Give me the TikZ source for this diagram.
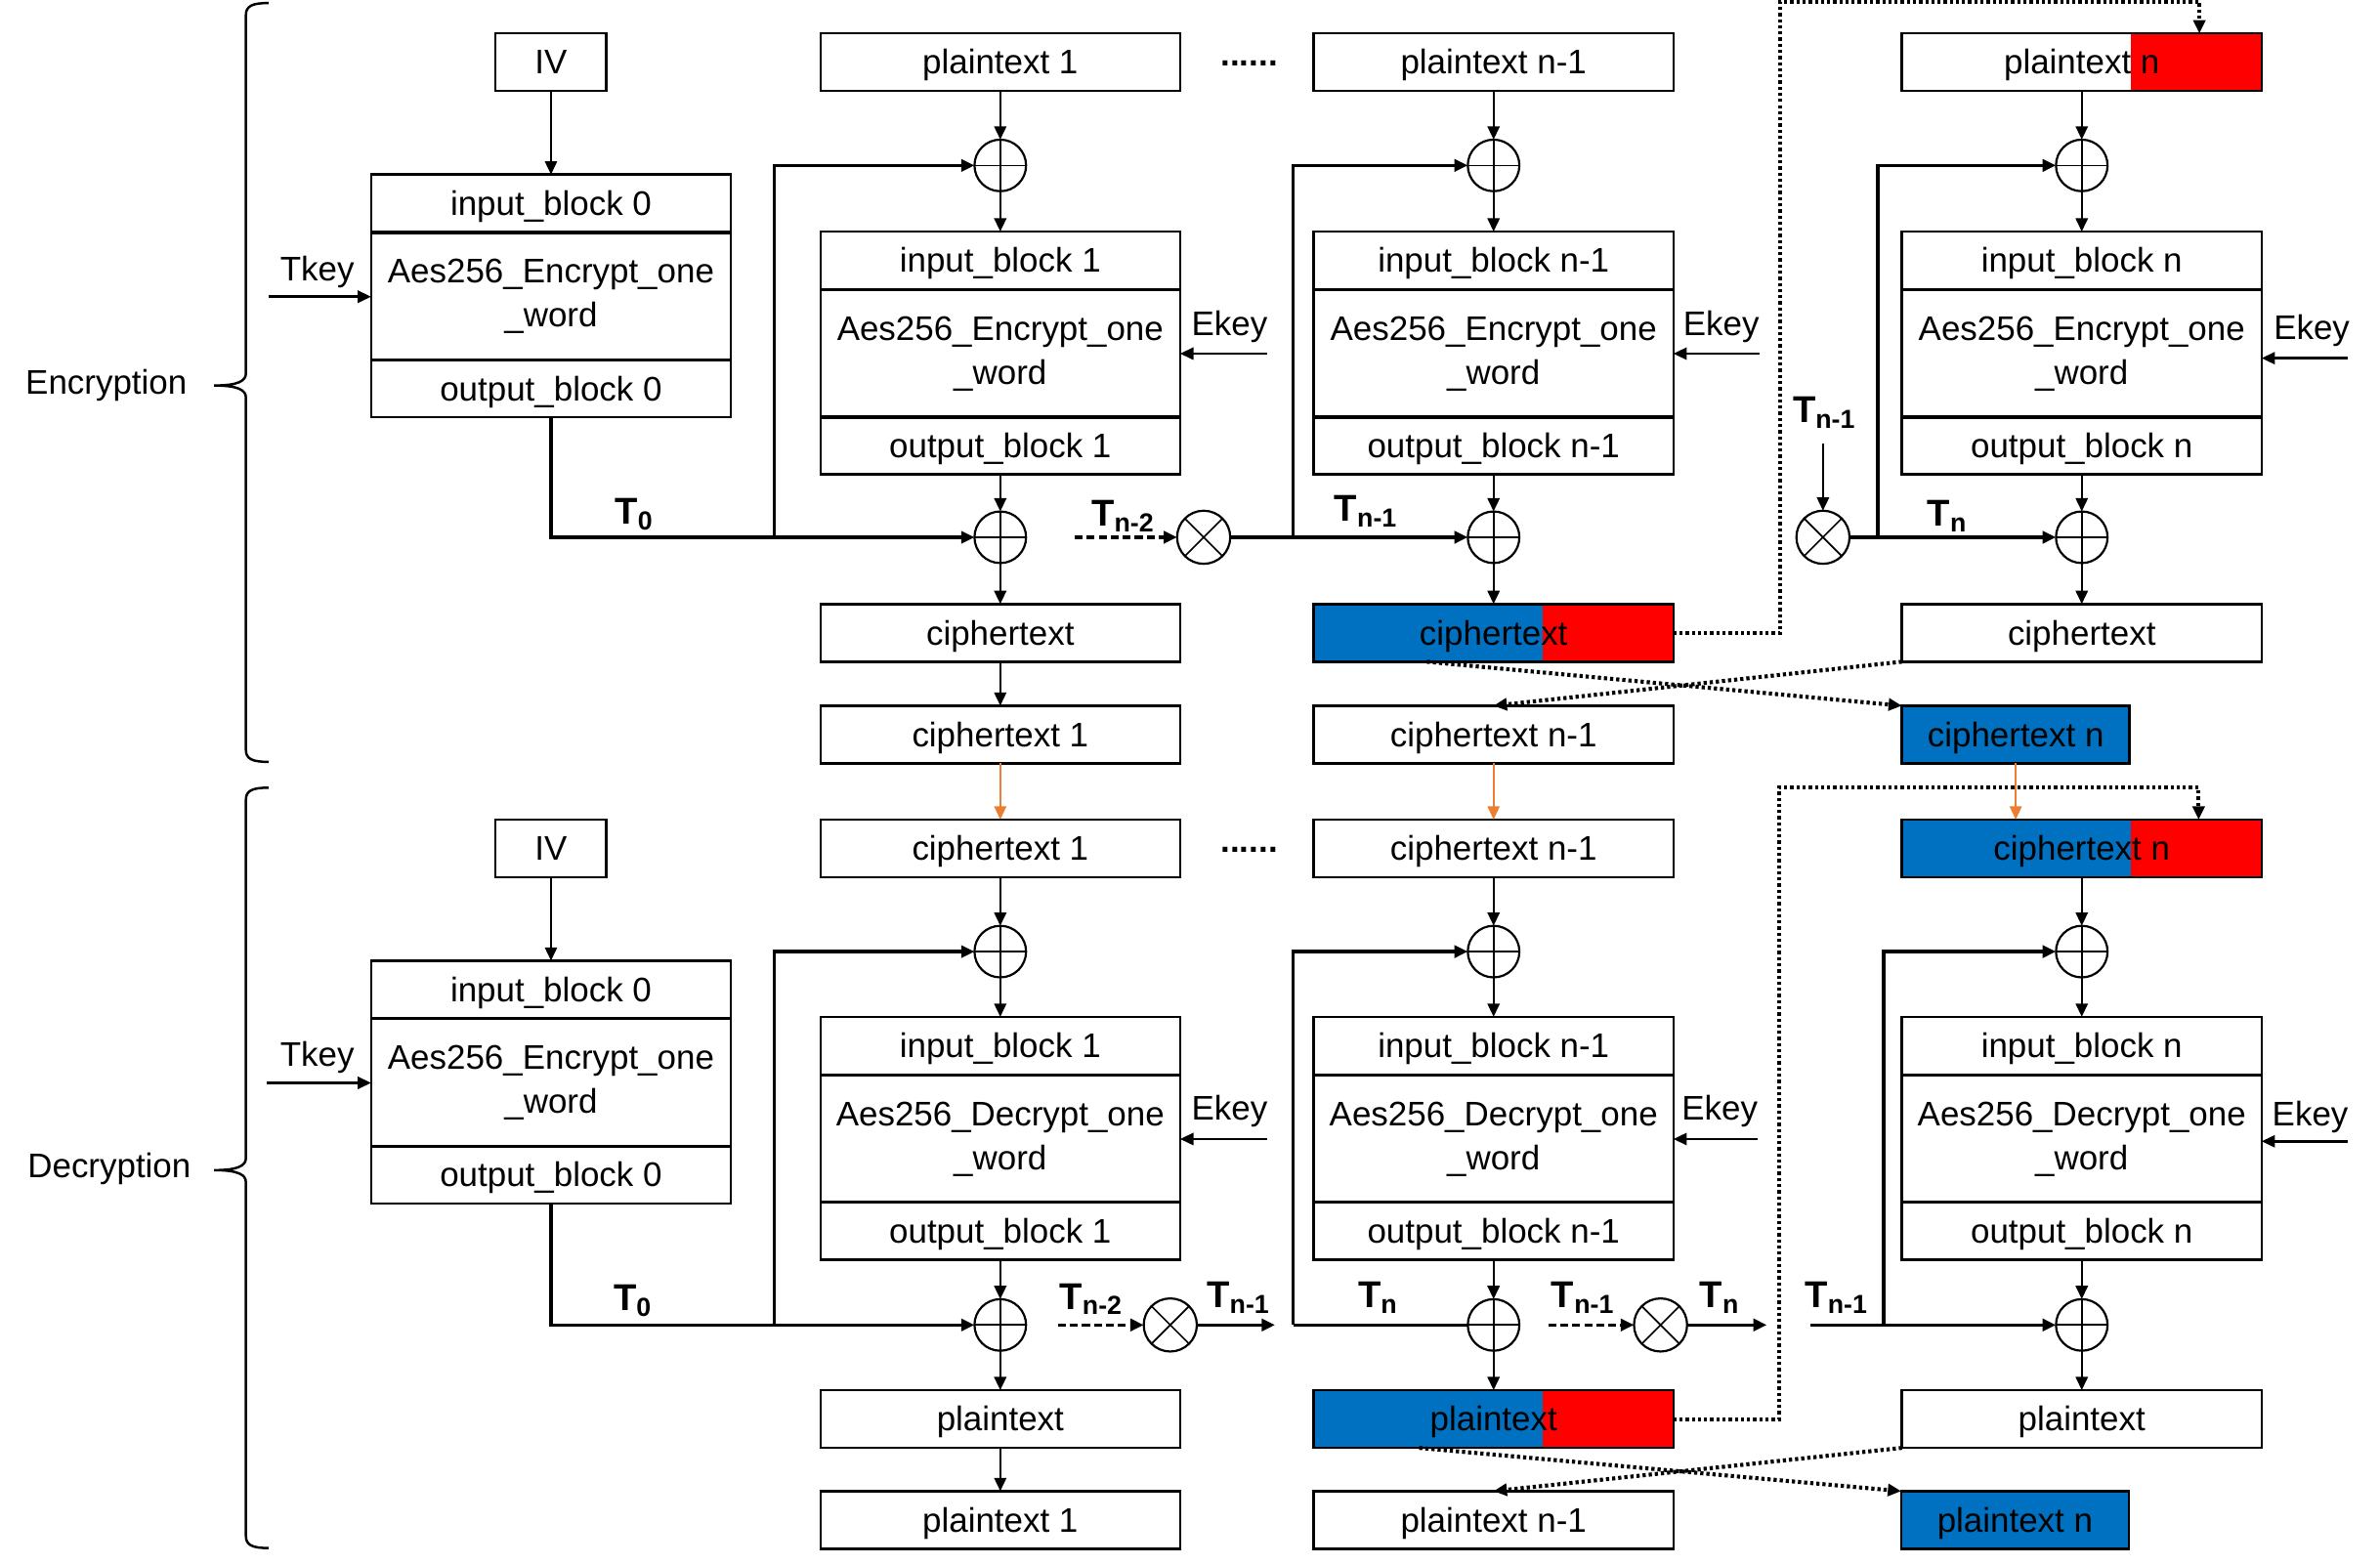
\documentclass[tikz,border=0pt]{standalone}
\usepackage{fontspec}
\setmainfont{Liberation Sans}
\usetikzlibrary{arrows.meta,calc}
\definecolor{xblue}{HTML}{0070C0}
\definecolor{xred}{HTML}{FF0000}
\definecolor{xorange}{HTML}{ED7D31}
\tikzset{
	cell/.style={draw, line width=0.9pt, minimum width=4.74cm, inner sep=0, outer sep=0},
	blk/.style={cell, minimum height=0.76cm, text height=9pt, text depth=0pt},
	xorc/.style={draw, circle, line width=0.8pt, minimum size=0.68cm, inner sep=0, outer sep=0,
		path picture={\draw[line width=0.6pt] (path picture bounding box.north) -- (path picture bounding box.south)
			(path picture bounding box.west) -- (path picture bounding box.east);}},
	otim/.style={draw, circle, line width=0.8pt, minimum size=0.7cm, inner sep=0, outer sep=0,
		path picture={\draw[line width=0.6pt] (path picture bounding box.north west) -- (path picture bounding box.south east)
			(path picture bounding box.north east) -- (path picture bounding box.south west);}},
	redtail/.style={path picture={\fill[xred] ([xshift=-#1]path picture bounding box.north east) rectangle (path picture bounding box.south east);}},
	redtail/.default=1.72cm
}
\newcommand{\Tsub}[1]{\textbf{T}\textsubscript{\textbf{#1}}}
\newcommand{\aesblock}[5]{%
	\node[blk] (in#1) at (#2,#3+19) {input\_block #4};
	\node[cell, minimum height=1.68cm, align=center] (mid#1) at (#2,#3+80.5) {Aes256\_#5\_one\\\_word};
	\node[blk] (out#1) at (#2,#3+141) {output\_block #4};
}
\begin{document}
\begin{tikzpicture}[x=0.02cm, y=-0.02cm, line width=0.9pt, >={Triangle[length=5pt,width=4.5pt]},
	every node/.style={font=\fontsize{12.8}{16.5}\selectfont},
	tlbl/.style={font=\fontsize{14}{16}\selectfont, inner sep=0},
	tline/.style={line width=1.3pt},
	dashline/.style={line width=1.3pt, dash pattern=on 3pt off 1.5pt},
	dotline/.style={line width=1.5pt, dash pattern=on 1.2pt off 1.1pt},
	orng/.style={xorange, line width=0.7pt}]
	\useasboundingbox (0,0) rectangle (1568,1031);
	% braces
	\node (lenc) at (70,254) {Encryption};
	\draw (177,2) .. controls (166,2) and (162,4) .. (162,10) -- (162,246) .. controls (162,251) and (157,254) .. (141,254)
		.. controls (157,254) and (162,257) .. (162,262) -- (162,494) .. controls (162,500) and (166,502) .. (177,502);
	\node (ldec) at (72,770) {Decryption};
	\draw (177,519) .. controls (166,519) and (162,521) .. (162,527) -- (162,763) .. controls (162,768) and (157,771) .. (141,771)
		.. controls (157,771) and (162,774) .. (162,779) -- (162,1012) .. controls (162,1018) and (166,1020) .. (177,1020);
	
	% ---------- encryption
	\node[blk, minimum width=1.46cm] (iv) at (363,41) {IV};
	\aesblock{0}{363}{115}{0}{Encrypt}
	\node (ltkey) at (209,179) {Tkey};
	\coordinate (tk0) at (177,195.5);
	\draw[->] (iv) -- (in0);
	\draw[->] (tk0) -- (tk0 -| mid0.west);
	
	\node[blk] (pt1) at (659,41) {plaintext 1};
	\node (dots1) at (823,42) {\textbf{......}};
	\node[xorc] (xa1) at (659,109) {};
	\aesblock{1}{659}{152.6}{1}{Encrypt}
	\node (lek1) at (810,215) {Ekey};
	\coordinate (ek1) at (835,233);
	\node[xorc] (xb1) at (659,354) {};
	\node[blk] (ct1) at (659,417) {ciphertext};
	\node[blk] (c1) at (659,484) {ciphertext 1};
	\draw[->] (pt1) -- (xa1);
	\draw[->] (xa1) -- (in1);
	\draw[->] (ek1) -- (ek1 -| mid1.east);
	\draw[->] (out1) -- (xb1);
	\draw[->] (xb1) -- (ct1);
	\draw[->] (ct1) -- (c1);
	\node[tlbl] (lt0) at (418,339) {\Tsub{0}};
	\coordinate (br1) at (510,354);
	\draw[tline,->] (out0) |- (xb1);
	\draw[tline,->] (br1) |- (xa1);
	
	\node[tlbl] (ltn2) at (740,340) {\Tsub{n-2}};
	\coordinate (tn2) at (708,354);
	\node[otim] (ot1) at (793,354) {};
	\draw[dashline,->] (tn2) -- (ot1);
	\node[tlbl] (ltn1) at (900,337) {\Tsub{n-1}};
	\node[blk] (ptn1) at (984,41) {plaintext n-1};
	\node[xorc] (xa2) at (984,109) {};
	\aesblock{2}{984}{152.6}{n-1}{Encrypt}
	\node (lek2) at (1134,215) {Ekey};
	\coordinate (ek2) at (1159,233);
	\node[xorc] (xb2) at (984,354) {};
	\node[blk, fill=xblue, redtail] (ct2) at (984,417) {ciphertext};
	\node[blk] (cn1) at (984,484) {ciphertext n-1};
	\coordinate (br2) at (852,354);
	\draw[->] (ptn1) -- (xa2);
	\draw[->] (xa2) -- (in2);
	\draw[->] (ek2) -- (ek2 -| mid2.east);
	\draw[->] (out2) -- (xb2);
	\draw[->] (xb2) -- (ct2);
	\draw[tline,->] (ot1) -- (xb2);
	\draw[tline,->] (br2) |- (xa2);
	
	\node[blk, redtail] (ptn) at (1371.5,41) {plaintext n};
	\node[xorc] (xa3) at (1371.5,109) {};
	\aesblock{3}{1371.5}{152.6}{n}{Encrypt}
	\node (lek3) at (1523,218) {Ekey};
	\coordinate (ek3) at (1547,236);
	\node[xorc] (xb3) at (1371.5,354) {};
	\node[blk] (ct3) at (1371.5,417) {ciphertext};
	\node[blk, fill=xblue, minimum width=3cm] (cnn) at (1328,484) {ciphertext n};
	\node[otim] (ot2) at (1201,354) {};
	\node[tlbl] (ltn1b) at (1202,272) {\Tsub{n-1}};
	\coordinate (tn1) at (1201,292);
	\node[tlbl] (ltn) at (1283,340) {\Tsub{n}};
	\coordinate (br3) at (1237,354);
	\draw[->] (ptn) -- (xa3);
	\draw[->] (xa3) -- (in3);
	\draw[->] (ek3) -- (ek3 -| mid3.east);
	\draw[->] (out3) -- (xb3);
	\draw[->] (xb3) -- (ct3);
	\draw[->] (tn1) -- (ot2);
	\draw[tline,->] (ot2) -- (xb3);
	\draw[tline,->] (br3) |- (xa3);
	
	\coordinate (up1) at (1173,1);
	\coordinate (cx1) at (940,436);
	\draw[dotline,->] (ct2.east) -| (up1) -| ($(ptn.north)+(77.5,0)$);
	\draw[dotline,->] (cx1) -- (cnn.north west);
	\draw[dotline,->] (ct3.south west) -- (cn1.north);
	
	% ---------- decryption
	\node[blk, minimum width=1.46cm] (div) at (363,559) {IV};
	\aesblock{d0}{363}{633}{0}{Encrypt}
	\node (ldtkey) at (209,697) {Tkey};
	\coordinate (dtk0) at (176,713.5);
	\draw[->] (div) -- (ind0);
	\draw[->] (dtk0) -- (dtk0 -| midd0.west);
	
	\node[blk] (dc1) at (659,559) {ciphertext 1};
	\node (dots2) at (823,560) {\textbf{......}};
	\node[xorc] (dxa1) at (659,627) {};
	\aesblock{d1}{659}{670}{1}{Decrypt}
	\node (ldek1) at (810,732) {Ekey};
	\coordinate (dek1) at (835,750.5);
	\node[xorc] (dxb1) at (659,873) {};
	\node[blk] (dp1) at (659,935) {plaintext};
	\node[blk] (dpl1) at (659,1001.5) {plaintext 1};
	\draw[->] (dc1) -- (dxa1);
	\draw[->] (dxa1) -- (ind1);
	\draw[->] (dek1) -- (dek1 -| midd1.east);
	\draw[->] (outd1) -- (dxb1);
	\draw[->] (dxb1) -- (dp1);
	\draw[->] (dp1) -- (dpl1);
	\node[tlbl] (ldt0) at (417,857) {\Tsub{0}};
	\coordinate (dbr1) at (510,873);
	\draw[tline,->] (outd0) |- (dxb1);
	\draw[tline,->] (dbr1) |- (dxa1);
	
	\node[tlbl] (ldtn2) at (719,856) {\Tsub{n-2}};
	\coordinate (dtn2) at (697,873);
	\node[otim] (dot1) at (771,873) {};
	\node[tlbl] (ldtn1) at (816,855) {\Tsub{n-1}};
	\coordinate (dtn1e) at (840,873);
	\draw[dashline,->] (dtn2) -- (dot1);
	\draw[tline,->] (dot1) -- (dtn1e);
	
	\node[blk] (dcn1) at (984,559) {ciphertext n-1};
	\node[xorc] (dxa2) at (984,627) {};
	\aesblock{d2}{984}{670}{n-1}{Decrypt}
	\node (ldek2) at (1133,732) {Ekey};
	\coordinate (dek2) at (1158,750.5);
	\node[xorc] (dxb2) at (984,873) {};
	\node[blk, fill=xblue, redtail] (dp2) at (984,935) {plaintext};
	\node[blk] (dpn1) at (984,1001.5) {plaintext n-1};
	\node[tlbl] (ldtn) at (908,855) {\Tsub{n}};
	\coordinate (dbr2) at (852,873);
	\draw[->] (dcn1) -- (dxa2);
	\draw[->] (dxa2) -- (ind2);
	\draw[->] (dek2) -- (dek2 -| midd2.east);
	\draw[->] (outd2) -- (dxb2);
	\draw[->] (dxb2) -- (dp2);
	\draw[tline] (dbr2) -- (dxb2);
	\draw[tline,->] (dbr2) |- (dxa2);
	
	\node[tlbl] (ldtn1b) at (1043,855) {\Tsub{n-1}};
	\coordinate (dtn1) at (1020,873);
	\node[otim] (dot2) at (1094,873) {};
	\node[tlbl] (ldtnb) at (1133,855) {\Tsub{n}};
	\coordinate (dtne) at (1164,873);
	\draw[dashline,->] (dtn1) -- (dot2);
	\draw[tline,->] (dot2) -- (dtne);
	
	\node[blk, fill=xblue, redtail] (dcn) at (1371.5,559) {ciphertext n};
	\node[xorc] (dxa3) at (1371.5,627) {};
	\aesblock{d3}{1371.5}{670}{n}{Decrypt}
	\node (ldek3) at (1522,736) {Ekey};
	\coordinate (dek3) at (1547,752);
	\node[xorc] (dxb3) at (1371.5,873) {};
	\node[blk] (dp3) at (1371.5,935) {plaintext};
	\node[blk, fill=xblue, minimum width=3cm] (dpn) at (1327.5,1001.5) {plaintext n};
	\node[tlbl] (ldtn1c) at (1210,855) {\Tsub{n-1}};
	\coordinate (dtn1s) at (1193,873);
	\coordinate (dbr3) at (1241,873);
	\draw[->] (dcn) -- (dxa3);
	\draw[->] (dxa3) -- (ind3);
	\draw[->] (dek3) -- (dek3 -| midd3.east);
	\draw[->] (outd3) -- (dxb3);
	\draw[->] (dxb3) -- (dp3);
	\draw[tline,->] (dtn1s) -- (dxb3);
	\draw[tline,->] (dbr3) |- (dxa3);
	
	\coordinate (up2) at (1172,519);
	\coordinate (dx1) at (935,954);
	\draw[dotline,->] (dp2.east) -| (up2) -| ($(dcn.north)+(77,0)$);
	\draw[dotline,->] (dx1) -- (dpn.north west);
	\draw[dotline,->] (dp3.south west) -- (dpn1.north);
	
	% encryption output to decryption input
	\draw[orng,->] (c1) -- (dc1);
	\draw[orng,->] (cn1) -- (dcn1);
	\draw[orng,->] (cnn.south) -- (cnn.south |- dcn.north);
\end{tikzpicture}
\end{document}
